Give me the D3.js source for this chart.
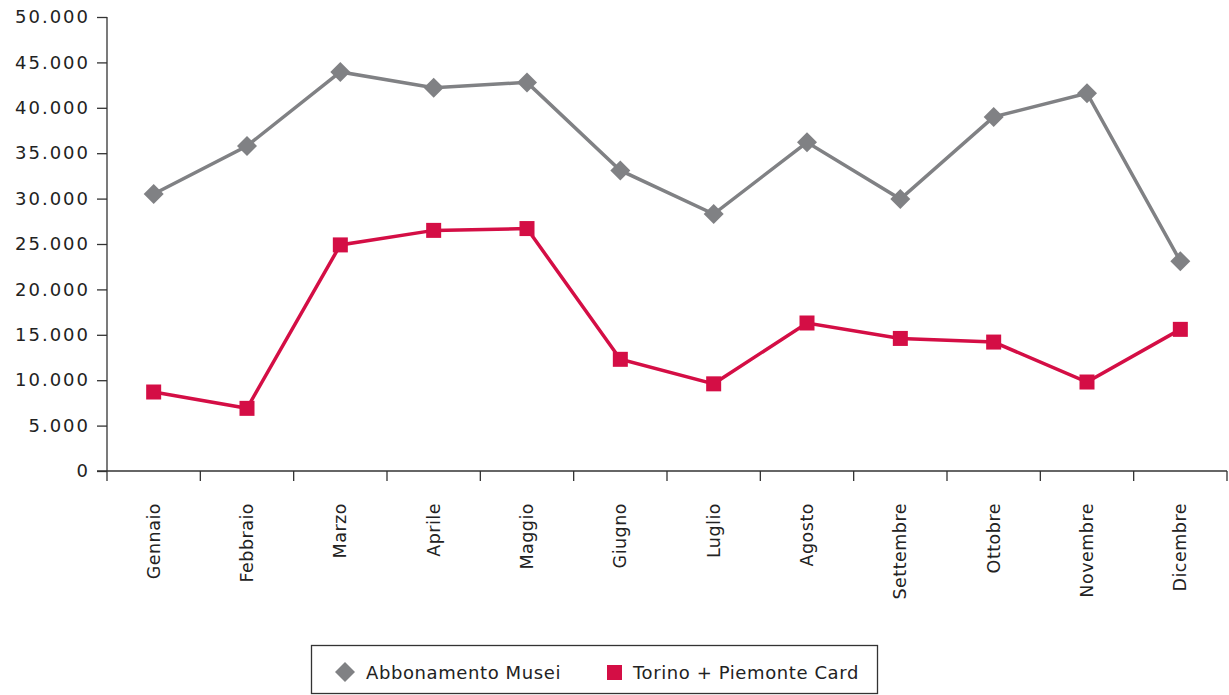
<!DOCTYPE html>
<html><head><meta charset="utf-8">
<script src="https://cdn.jsdelivr.net/npm/d3@7"></script>
<style>body{margin:0;background:#fff;} svg{display:block;}</style>
</head><body>
<svg id="c" width="1229" height="695"></svg>
<script>
const months = ["Gennaio","Febbraio","Marzo","Aprile","Maggio","Giugno","Luglio","Agosto","Settembre","Ottobre","Novembre","Dicembre"];
const abbonamento = [30500,35800,43950,42200,42800,33100,28300,36200,29950,39000,41600,23100];
const torinoCard = [8700,6900,24900,26500,26700,12300,9600,16300,14600,14200,9800,15600];
const yTicks = [0,5000,10000,15000,20000,25000,30000,35000,40000,45000,50000];
const seriesNames = ["Abbonamento Musei","Torino + Piemonte Card"];

(function(){
const svg = d3.select("#c");
const font = "'DejaVu Sans', sans-serif";
const mL = 107, mR = 1227, mT = 17, mB = 471;
const x = d3.scaleBand().domain(months).range([mL, mR]);
const y = d3.scaleLinear().domain([0,50000]).range([mB, mT]);
const fmt = v => d3.format(",")(v).replace(/,/g, ".");
const axisColor = "#333";

const ya = svg.append("g").attr("transform", `translate(${mL},0)`)
  .call(d3.axisLeft(y).tickValues(yTicks).tickFormat(fmt).tickSize(10).tickPadding(9));
ya.selectAll("path,line").attr("stroke", axisColor).attr("stroke-width", 1.3);
ya.select(".domain").attr("d", `M0,${mT}V${mB}`);
ya.selectAll("text").attr("font-family", font).attr("font-size", 18).attr("letter-spacing", 2).attr("fill", "#222").attr("dx", 2);

const xa = svg.append("g").attr("transform", `translate(0,${mB})`)
  .call(d3.axisBottom(x).tickSize(0).tickFormat(""));
xa.select(".domain").attr("d", `M${mL-10},0H${mR}`).attr("stroke", axisColor).attr("stroke-width", 1.3);
const bounds = months.map(m => x(m)).concat([mR]);
svg.append("g").selectAll("line").data(bounds).join("line")
  .attr("x1", d => d).attr("x2", d => d).attr("y1", mB).attr("y2", mB + 10)
  .attr("stroke", axisColor).attr("stroke-width", 1.3);
svg.append("g").selectAll("text").data(months).join("text")
  .attr("transform", d => `translate(${x(d) + x.bandwidth()/2 + 6},503) rotate(-90)`)
  .attr("text-anchor", "end").attr("font-family", font).attr("font-size", 17.5).attr("letter-spacing", 0.5).attr("fill", "#222")
  .text(d => d);

const cx = m => x(m) + x.bandwidth()/2;
const line = d3.line().x((d,i) => cx(months[i])).y(d => y(d));
const gray = "#808184", red = "#d40e45";

svg.append("path").datum(abbonamento).attr("d", line).attr("fill", "none").attr("stroke", gray).attr("stroke-width", 3.5);
svg.append("path").datum(torinoCard).attr("d", line).attr("fill", "none").attr("stroke", red).attr("stroke-width", 3.5);

const diamond = d3.symbol().type(d3.symbolSquare).size(200);
svg.append("g").selectAll("path").data(abbonamento).join("path")
  .attr("d", diamond())
  .attr("transform", (d,i) => `translate(${cx(months[i])},${y(d)}) rotate(45)`)
  .attr("fill", gray);
svg.append("g").selectAll("rect").data(torinoCard).join("rect")
  .attr("x", (d,i) => cx(months[i]) - 7.5).attr("y", d => y(d) - 7.5)
  .attr("width", 15).attr("height", 15).attr("fill", red);

const lg = svg.append("g");
lg.append("rect").attr("x", 311.5).attr("y", 645.5).attr("width", 566).attr("height", 48)
  .attr("fill", "#fff").attr("stroke", axisColor).attr("stroke-width", 1.3);
lg.append("path").attr("d", d3.symbol().type(d3.symbolSquare).size(200)())
  .attr("transform", "translate(345,672) rotate(45)").attr("fill", gray);
lg.append("text").attr("x", 366).attr("y", 679).attr("font-family", font).attr("font-size", 18).attr("letter-spacing", 0.6).attr("fill", "#222").text(seriesNames[0]);
lg.append("rect").attr("x", 607).attr("y", 665).attr("width", 15).attr("height", 15).attr("fill", red);
lg.append("text").attr("x", 633).attr("y", 679).attr("font-family", font).attr("font-size", 18).attr("letter-spacing", 0.6).attr("fill", "#222").text(seriesNames[1]);
})();
</script>
</body></html>
